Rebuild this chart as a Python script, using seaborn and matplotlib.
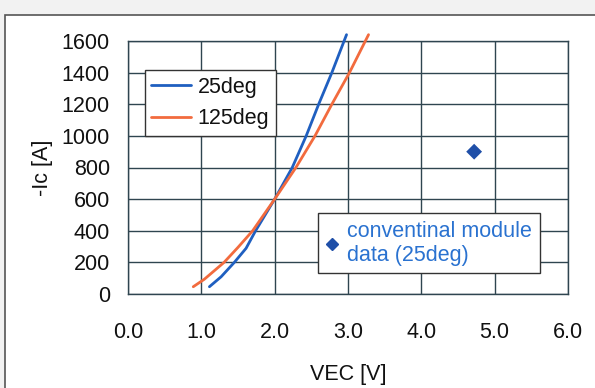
import numpy as np
import pandas as pd
import matplotlib.pyplot as plt
import seaborn as sns
from matplotlib.patches import Rectangle
from matplotlib.lines import Line2D

# data
vec_25 = [1.11, 1.27, 1.45, 1.61, 1.74, 2.00, 2.24, 2.43, 2.60, 2.78, 2.98]
ic_25 = [46, 109, 200, 289, 400, 600, 800, 1000, 1200, 1400, 1640]

vec_125 = [0.89, 1.04, 1.31, 1.50, 1.70, 2.00, 2.29, 2.55, 2.78, 3.02, 3.28]
ic_125 = [46, 93, 200, 295, 400, 600, 800, 1000, 1200, 1400, 1640]

conv_vec = [4.72]
conv_ic = [900]

x_ticks = [0, 1, 2, 3, 4, 5, 6]
y_ticks = [0, 200, 400, 600, 800, 1000, 1200, 1400, 1600]

BLUE = "#1f5fc0"
ORANGE = "#f26b3e"
GRID = "#2f4550"
FS = 15.5

sns.set_style("white")
plt.rcParams["font.family"] = ["Liberation Sans", "DejaVu Sans"]
plt.rcParams["text.color"] = "#111111"
plt.rcParams["axes.labelcolor"] = "#111111"
plt.rcParams["xtick.color"] = "#111111"
plt.rcParams["ytick.color"] = "#111111"

fig = plt.figure(figsize=(5.95, 3.88), dpi=100, facecolor="#f2f2f2")
# outer frame of the picture
frame = Rectangle((5 / 595, -0.1), 1.2, 1.1 - 15 / 388,
                  transform=fig.transFigure, facecolor="white",
                  edgecolor="#555555", linewidth=1.2, zorder=-10)
fig.patches.append(frame)

ax = fig.add_axes([128 / 595, 1 - 294 / 388, 440 / 595, 253 / 388])
ax.set_facecolor("white")

df25 = pd.DataFrame({"VEC": vec_25, "Ic": ic_25})
df125 = pd.DataFrame({"VEC": vec_125, "Ic": ic_125})
dfc = pd.DataFrame({"VEC": conv_vec, "Ic": conv_ic})

sns.lineplot(data=df25, x="VEC", y="Ic", ax=ax, color=BLUE, lw=2, sort=False,
             label="25deg", clip_on=False, zorder=3, solid_joinstyle="round")
sns.lineplot(data=df125, x="VEC", y="Ic", ax=ax, color=ORANGE, lw=2, sort=False,
             label="125deg", clip_on=False, zorder=3, solid_joinstyle="round")
sns.scatterplot(data=dfc, x="VEC", y="Ic", ax=ax, marker="D", s=65,
                color="#1f4fa8", edgecolor="none", zorder=3)

ax.set_xlim(0, 6)
ax.set_ylim(0, 1600)
ax.set_xticks(x_ticks)
ax.set_xticklabels([f"{t:.1f}" for t in x_ticks])
ax.set_yticks(y_ticks)
ax.tick_params(axis="x", labelsize=FS, pad=20, length=0)
ax.tick_params(axis="y", labelsize=FS, pad=13, length=0)
ax.grid(True, color=GRID, lw=1)
for s in ax.spines.values():
    s.set_color(GRID)
    s.set_linewidth(1)

ax.set_xlabel("VEC [V]", fontsize=FS, labelpad=15)
ax.set_ylabel("-Ic [A]", fontsize=FS, labelpad=6)

leg1 = ax.legend(loc="upper left", bbox_to_anchor=(0.038, 0.885), fontsize=FS,
                 frameon=True, fancybox=False, edgecolor="#333333",
                 handlelength=1.85, handletextpad=0.3, borderpad=0.3,
                 labelspacing=0.5, borderaxespad=0, framealpha=1)
leg1.get_frame().set_linewidth(1)
ax.add_artist(leg1)

h = Line2D([], [], marker="D", color="#1f4fa8", ls="none", markersize=6)
leg2 = ax.legend([h], ["conventinal module\ndata (25deg)"], loc="upper left",
                 bbox_to_anchor=(0.432, 0.32), fontsize=FS, labelcolor="#2a72d0",
                 frameon=True, fancybox=False, edgecolor="#333333",
                 handlelength=0.6, handletextpad=0.4, borderpad=0.35,
                 borderaxespad=0, framealpha=1)
leg2.get_frame().set_linewidth(1)

fig.savefig("out.png", dpi=100, facecolor=fig.get_facecolor())
